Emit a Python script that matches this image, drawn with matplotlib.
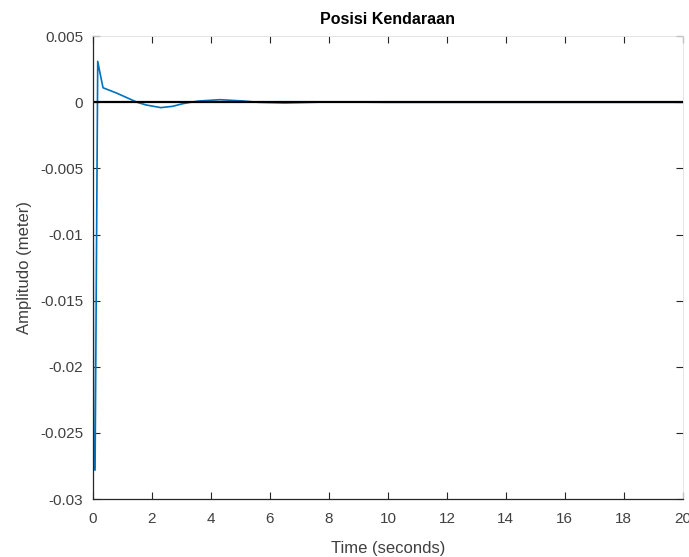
import matplotlib
matplotlib.use("Agg")
import matplotlib.pyplot as plt

# data
time_s = [0.0, 0.02, 0.07, 0.16, 0.22, 0.34, 0.8, 1.2, 1.5, 1.8, 2.3, 2.7, 3.05, 3.3, 3.6, 4.3, 5.1, 5.6, 6.5, 8.0, 10.0, 14.0, 20.0]
position = [0.0, -0.0278, -0.0278, 0.0031, 0.0024, 0.0011, 0.0007, 0.0003, 0.0, -0.0002, -0.0004, -0.0003, -0.0001, 0.0, 0.0001, 0.0002, 0.0001, 0.0, -0.00005, 0.00003, 0.0, 0.0, 0.0]

xticks = [0, 2, 4, 6, 8, 10, 12, 14, 16, 18, 20]
yticks = [0.005, 0, -0.005, -0.01, -0.015, -0.02, -0.025, -0.03]
ytick_labels = ["0.005", "0", "-0.005", "-0.01", "-0.015", "-0.02", "-0.025", "-0.03"]

plt.rcParams['font.family'] = ['Liberation Sans', 'DejaVu Sans']

fig = plt.figure(figsize=(6.89, 5.57), dpi=100)
ax = fig.add_axes([0.135, 0.104, 0.856, 0.831])

ax.plot(time_s, position, color='#0072BD', lw=1.2)
ax.plot([0, 20], [0, 0], color='black', lw=1.6)

ax.set_xlim(0, 20)
ax.set_ylim(-0.03, 0.005)
ax.set_xticks(xticks)
ax.set_yticks(yticks)
ax.set_yticklabels(ytick_labels)
ax.tick_params(direction='in', length=5, width=0.8, top=True, right=True,
               labelsize=11, labelcolor='#404040', color='#262626')
ax.tick_params(axis='x', pad=9)
ax.tick_params(axis='y', pad=7)

for s in ['left', 'bottom']:
    ax.spines[s].set_color('#262626')
    ax.spines[s].set_linewidth(0.9)
for s in ['top', 'right']:
    ax.spines[s].set_color('#e0e0e0')
    ax.spines[s].set_linewidth(0.6)

ax.set_title('Posisi Kendaraan', fontsize=11.5, fontweight='bold', color='black', pad=9)
ax.set_xlabel('Time (seconds)', fontsize=12, color='#404040', labelpad=11)
ax.set_ylabel('Amplitudo (meter)', fontsize=12, color='#404040', labelpad=6)

fig.savefig('out.png', dpi=100)
